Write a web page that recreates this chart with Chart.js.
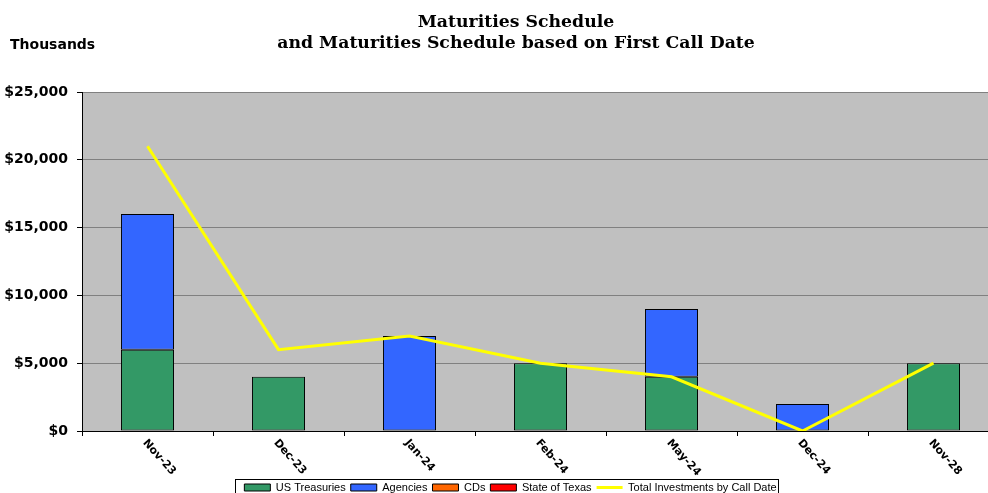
<!DOCTYPE html>
<html>
<head>
<meta charset="utf-8">
<script src="https://cdn.jsdelivr.net/npm/chart.js@4.4.0/dist/chart.umd.min.js"></script>
<style>
html, body { margin: 0; padding: 0; overflow: hidden; background: #fff; }
#wrap { width: 1000px; height: 503px; position: relative; }
</style>
</head>
<body>
<div id="wrap"><canvas id="chart"></canvas></div>
<script>
// data (thousands of dollars)
const months = ['Nov-23', 'Dec-23', 'Jan-24', 'Feb-24', 'May-24', 'Dec-24', 'Nov-28'];
const usTreasuries = [6000, 4000, 0, 5000, 4000, 0, 5000];
const agencies = [10000, 0, 7000, 0, 5000, 2000, 0];
const cds = [0, 0, 0, 0, 0, 0, 0];
const stateOfTexas = [0, 0, 0, 0, 0, 0, 0];
const totalByCallDate = [21000, 6000, 7000, 5000, 4000, 0, 5000];
const titleLines = ['Maturities Schedule', 'and Maturities Schedule based on First Call Date'];
const unitLabel = 'Thousands';

Chart.defaults.font.family = '"Liberation Sans", Arial, sans-serif';
Chart.defaults.color = '#000';

function barSet(label, data, color) {
    return {
        type: 'bar',
        label: label,
        data: data,
        backgroundColor: color,
        borderColor: '#000',
        borderWidth: 1,
        borderSkipped: false,
        barPercentage: 0.405,
        categoryPercentage: 1,
        stack: 'bars',
        order: 1
    };
}

const decor = {
    id: 'decor',
    afterLayout(chart) {
        // the legend sits a bit right of the canvas centre
        chart.legend.left += 11;
        chart.legend.right += 11;
    },
    beforeDraw(chart) {
        const a = chart.chartArea;
        const ctx = chart.ctx;
        ctx.save();
        ctx.fillStyle = '#c0c0c0';
        ctx.fillRect(a.left, a.top, a.right - a.left, a.bottom - a.top);
        ctx.restore();
    },
    afterDraw(chart) {
        const ctx = chart.ctx;
        const a = chart.chartArea;
        ctx.save();
        ctx.fillStyle = '#000';
        // title
        ctx.font = 'bold 17.3px "DejaVu Serif"';
        ctx.textAlign = 'center';
        ctx.textBaseline = 'alphabetic';
        ctx.fillText(titleLines[0], 516, 27);
        ctx.fillText(titleLines[1], 516, 48);
        // unit label
        ctx.font = 'bold 14px "DejaVu Sans"';
        ctx.textAlign = 'left';
        ctx.fillText(unitLabel, 10, 49);
        // rotated category labels
        const xs = chart.scales.x;
        ctx.font = 'bold 11px "DejaVu Sans"';
        ctx.textBaseline = 'middle';
        months.forEach(function(m, i) {
            const x = xs.getPixelForValue(i);
            ctx.save();
            ctx.translate(x - 3, a.bottom + 10);
            ctx.rotate(48 * Math.PI / 180);
            ctx.fillText(m, 0, 0);
            ctx.restore();
        });
        // legend frame
        const hb = chart.legend.legendHitBoxes;
        if (hb && hb.length) {
            const first = hb[0], last = hb[hb.length - 1];
            const l = first.left - 9;
            const r = last.left + last.width + 2;
            const t = first.top - 3;
            ctx.strokeStyle = '#000';
            ctx.lineWidth = 1;
            ctx.strokeRect(Math.round(l) + 0.5, Math.round(t) + 0.5, Math.round(r - l), 40);
        }
        ctx.restore();
    }
};

new Chart(document.getElementById('chart'), {
    data: {
        labels: months,
        datasets: [
            barSet('US Treasuries', usTreasuries, '#339966'),
            barSet('Agencies', agencies, '#3366ff'),
            barSet('CDs', cds, '#ff6600'),
            barSet('State of Texas', stateOfTexas, '#ff0000'),
            {
                type: 'line',
                label: 'Total Investments by Call Date',
                data: totalByCallDate,
                borderColor: '#ffff00',
                backgroundColor: '#ffff00',
                borderWidth: 3,
                pointRadius: 0,
                tension: 0,
                stack: 'line',
                order: 0
            }
        ]
    },
    options: {
        responsive: true,
        maintainAspectRatio: false,
        animation: false,
        devicePixelRatio: 1,
        layout: { padding: { left: 0, right: 1, top: 92, bottom: 0 } },
        plugins: {
            title: { display: false },
            tooltip: { enabled: false },
            legend: {
                position: 'bottom',
                labels: {
                    usePointStyle: true,
                    pointStyleWidth: 26,
                    boxHeight: 7,
                    padding: 5,
                    font: { size: 11 },
                    color: '#000',
                    generateLabels(chart) {
                        return chart.data.datasets.map(function(ds, i) {
                            const isLine = ds.type === 'line';
                            return {
                                text: ds.label,
                                fillStyle: ds.backgroundColor,
                                strokeStyle: isLine ? ds.borderColor : '#000',
                                lineWidth: isLine ? 3 : 1,
                                pointStyle: isLine ? 'line' : 'rect',
                                hidden: false,
                                fontColor: '#000',
                                datasetIndex: i
                            };
                        });
                    }
                }
            }
        },
        scales: {
            x: {
                stacked: true,
                offset: true,
                grid: { offset: true, drawOnChartArea: false, drawTicks: true, tickLength: 5, tickColor: '#000' },
                border: { color: '#000', width: 1 },
                ticks: { display: false },
                afterFit(s) { s.height = 46; }
            },
            y: {
                stacked: true,
                min: 0,
                max: 25000,
                ticks: {
                    stepSize: 5000,
                    padding: 9,
                    color: '#000',
                    font: { family: '"DejaVu Sans"', weight: 'bold', size: 14 },
                    callback: function(v) { return '$' + v.toLocaleString('en-US'); }
                },
                grid: {
                    color: function(c) { return c.tick && c.tick.value === 0 ? '#000' : '#808080'; },
                    tickColor: '#000',
                    tickLength: 5
                },
                border: { color: '#000', width: 1 },
                afterFit(s) { s.width = 82; }
            }
        }
    },
    plugins: [decor]
});
</script>
</body>
</html>
